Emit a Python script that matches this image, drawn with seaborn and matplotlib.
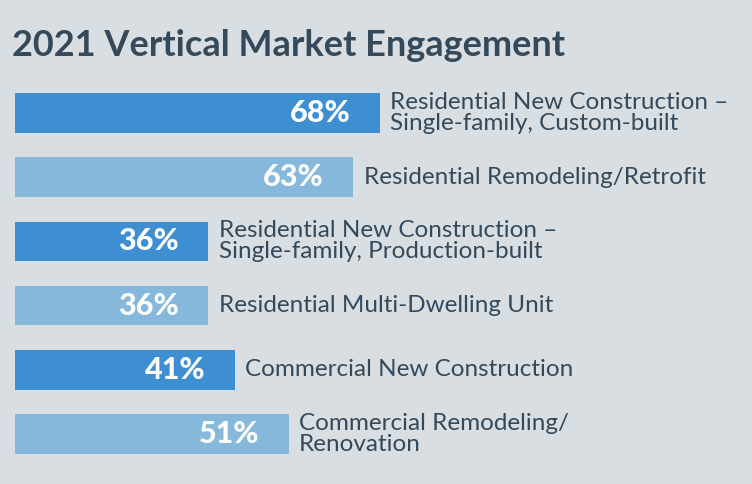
import matplotlib
matplotlib.use("Agg")
import matplotlib.pyplot as plt
import seaborn as sns
import pandas as pd

categories = ["Residential New Construction –\nSingle-family, Custom-built",
              "Residential Remodeling/Retrofit",
              "Residential New Construction –\nSingle-family, Production-built",
              "Residential Multi-Dwelling Unit",
              "Commercial New Construction",
              "Commercial Remodeling/\nRenovation"]
values = [68, 63, 36, 36, 41, 51]
shades = ["dark", "light", "dark", "light", "dark", "light"]

df = pd.DataFrame({"cat": categories, "val": values, "shade": shades})
bg = "#d9dee2"
txt = "#34495a"
fig = plt.figure(figsize=(7.52, 4.84), dpi=100, facecolor=bg)
ax = fig.add_axes([15/752, 1-466/484, 737/752, (466-81)/484])
ax.set_facecolor(bg)
sns.barplot(data=df, y="cat", x="val", hue="shade", dodge=False, orient="h",
            palette={"dark": "#3d8fd1", "light": "#85b8da"}, width=0.62,
            legend=False, ax=ax, saturation=1)
ax.set_xlim(0, 737/5.37)
for i, v in enumerate(values):
    ax.text(v - 5.5, i, f"{v}%", color="white", fontsize=22, fontweight="heavy",
            ha="right", va="center", family="Lato")
    ax.text(v + 1.9, i, categories[i], color=txt, fontsize=17.5, ha="left",
            va="center", family="Lato", linespacing=1.0)
ax.axis("off")
fig.text(12/752, 1-45/484, "2021 Vertical Market Engagement", fontsize=26,
         fontweight="bold", color=txt, ha="left", va="center", family="Lato")
fig.savefig("out.png", dpi=100, facecolor=bg)
